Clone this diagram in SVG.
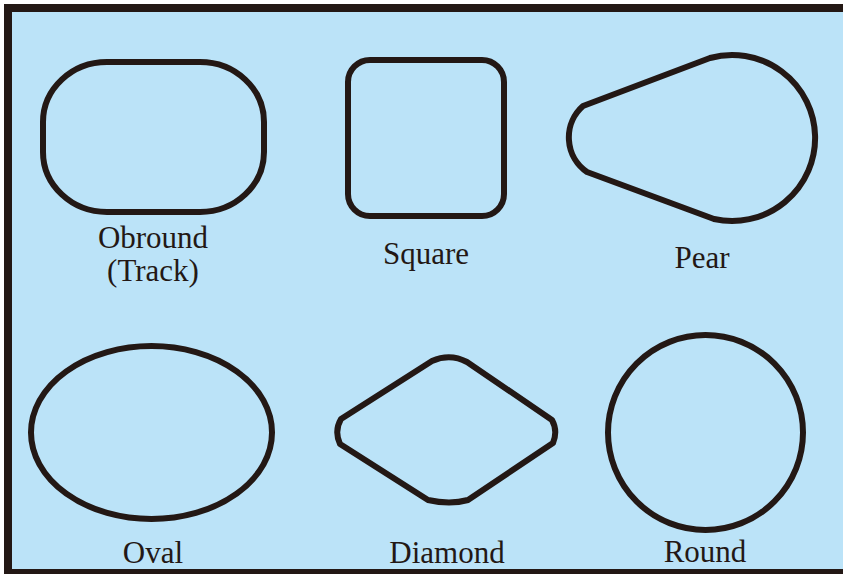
<svg xmlns="http://www.w3.org/2000/svg" width="843" height="574" viewBox="0 0 843 574">
<style>
.s{fill:none;stroke:#231815;stroke-width:6;stroke-linejoin:round}
.t{font-family:"Liberation Serif","Times New Roman",serif;font-size:31px;fill:#231815;text-anchor:middle}
</style>
<rect x="0" y="0" width="843" height="574" fill="#ffffff"/>
<rect x="8" y="8" width="850" height="565" fill="#bbe3f8" stroke="#231815" stroke-width="8"/>
<g id="obround"><rect class="s" x="43" y="62" width="221" height="150" rx="64" ry="60"/><text class="t" x="153" y="248">Obround</text><text class="t" x="153" y="281">(Track)</text></g>
<g id="square"><rect class="s" x="348" y="60" width="156" height="156" rx="22"/><text class="t" x="426" y="264">Square</text></g>
<g id="pear"><path class="s" d="M583,106 L710,58 A83,83 0 1 1 714,219 L587,172 A42,42 0 0 1 583,106 Z"/><text class="t" x="702" y="268">Pear</text></g>
<g id="oval"><ellipse class="s" cx="151.5" cy="432.5" rx="120.5" ry="86.5"/><text class="t" x="153" y="563">Oval</text></g>
<g id="diamond"><path class="s" d="M432,361 Q450,353 467,362 L552,420 Q558,431 553,443 L468,500 Q450,505 428,500 L340,444 Q334,431 341,419 Z"/><text class="t" x="447" y="563">Diamond</text></g>
<g id="round"><circle class="s" cx="705.5" cy="432.5" r="97.5"/><text class="t" x="705" y="562">Round</text></g>
<g id="connectors"/>
</svg>
